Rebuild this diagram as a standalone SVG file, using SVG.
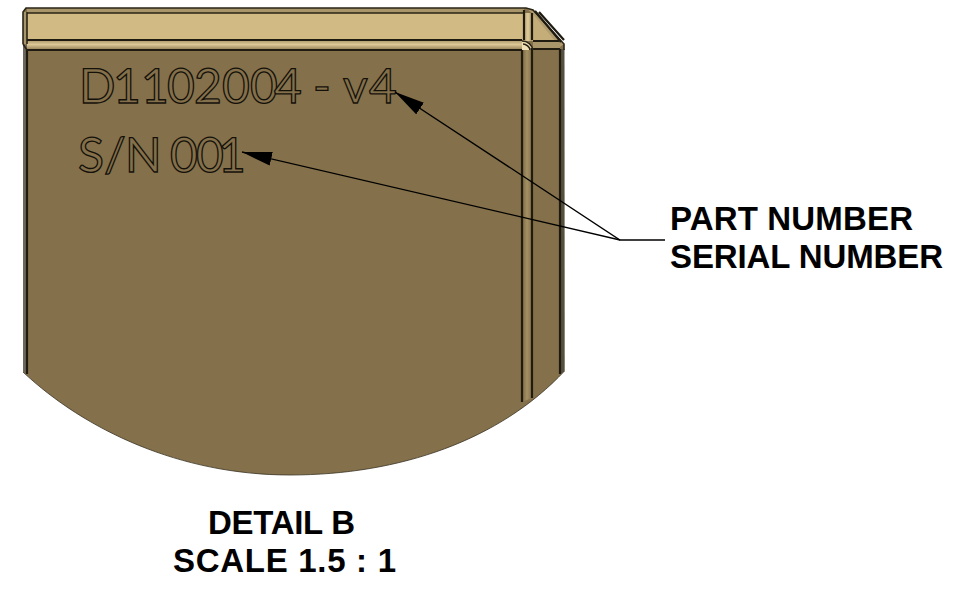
<svg xmlns="http://www.w3.org/2000/svg" width="980" height="592" viewBox="0 0 980 592">
<style>
.edge{fill:none;stroke:#2a2516;stroke-width:1.6}
.heavy{fill:none;stroke:#1f1b10;stroke-width:2.2}
.eng{font-family:"Lato","Liberation Sans",sans-serif;font-size:48px;font-weight:400;fill:#84704a;stroke:#14110a;stroke-width:1.3;text-rendering:geometricPrecision}
.lab{font-family:"Liberation Sans",Arial,sans-serif;font-size:33px;font-weight:700;fill:#000}
.lead{fill:none;stroke:#000;stroke-width:1.3}
</style>
<defs>
<linearGradient id="fold" x1="0" y1="0" x2="0" y2="1"><stop offset="0" stop-color="#a8956a"/><stop offset=".45" stop-color="#dcc896"/><stop offset="1" stop-color="#8e7b52"/></linearGradient>
<linearGradient id="vfold" x1="0" y1="0" x2="1" y2="0"><stop offset="0" stop-color="#7a6742"/><stop offset=".5" stop-color="#a39064"/><stop offset="1" stop-color="#84704a"/></linearGradient>
<linearGradient id="vtop" x1="0" y1="0" x2="1" y2="0"><stop offset="0" stop-color="#b5a173"/><stop offset=".5" stop-color="#e0cc9a"/><stop offset="1" stop-color="#a8956a"/></linearGradient>
<marker id="arrow" markerUnits="userSpaceOnUse" markerWidth="30" markerHeight="14" refX="30" refY="7" orient="auto"><path d="M0,0 L30,7 L0,14 Z" fill="#000"/></marker>
</defs>
<g id="part">
<path d="M23,12 L26,8 L526,8 L533,10 L564,44 L564.5,371 C500,440 400,475 290,475 C180,475 85,430 23,372 Z" fill="#84704a"/>
<rect x="27" y="8" width="497" height="5" fill="#a8956a"/>
<rect x="27" y="13" width="497" height="27" fill="#d2ba85"/>
<rect x="27" y="40" width="497" height="10" fill="url(#fold)"/>
<path d="M533,12 L532,41 L559,41 Z" fill="#c4ad78"/>
<path d="M526,8 L533,10 L564,44 L560,47 L533,14 Z" fill="#b09c6e"/>
<rect x="524" y="13" width="8" height="28" fill="url(#vtop)"/>
<path d="M522,41 C529,41 533,45 533,50 H522 Z" fill="#efe0b5"/>
<rect x="533" y="41" width="27" height="8" fill="#a8956a"/>
<path d="M522,50 L522,402 L532,398 L532,50 Z" fill="url(#vfold)"/>
<rect x="23" y="12" width="4" height="32" fill="#a8956a"/>
<path d="M23,45 H27 V374 L23,371 Z" fill="#6b675a"/>
<path d="M560,49 H564.5 V371 L560,374 Z" fill="#55503f"/>
<path class="edge" d="M23,44 V12 L26,8 H526 L533,10 L564,44 V50"/>
<path class="edge" d="M27,13 H524 M27,12 V44"/>
<path class="heavy" d="M27,40 H522 M27,50 H522 M27,50 V374 M522,50 V402 M532,48 V398 M532,13 V40 M524,10 V40 M533,41 H559 M533,49 H560 M560,49 V374 M535,11 L561,42 M539,12 L564,40"/>
<path class="edge" d="M522,41 C528,41 532,45 533,50 M523,44 C526,44 530,47 530,50 M23,44 L27,50"/>
<path d="M23,372 C85,430 180,475 290,475 C400,475 500,440 564.5,371" fill="none" stroke="#3a3424" stroke-width="0.8"/>
</g>
<g id="engraved-text">
<text class="eng" y="103" x="79 113 141 167 194 222 250 274">D1102004</text>
<text class="eng" y="103" x="313">-</text>
<text class="eng" y="103" x="343">v</text>
<text class="eng" y="103" x="369">4</text>
<text class="eng" y="172" x="78 104 125">S/N</text>
<text class="eng" y="172" x="170 196 218">001</text>
</g>
<g id="connectors">
<path class="lead" d="M665,240 H620 L395,92" marker-end="url(#arrow)"/>
<path class="lead" d="M620,240 L242,152" marker-end="url(#arrow)"/>
</g>
<g id="labels">
<text class="lab" x="670" y="230" textLength="243">PART NUMBER</text>
<text class="lab" x="670" y="268" textLength="273">SERIAL NUMBER</text>
<text class="lab" x="208" y="534" textLength="147">DETAIL B</text>
<text class="lab" x="173" y="572" textLength="223">SCALE 1.5 : 1</text>
</g>
</svg>
